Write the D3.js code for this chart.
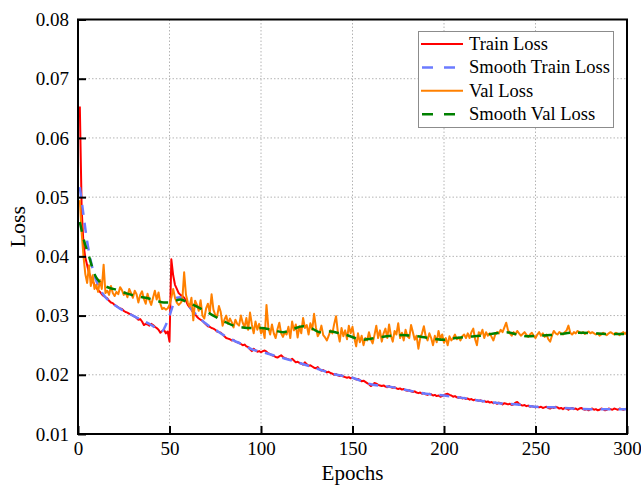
<!doctype html>
<html>
<head>
<meta charset="utf-8">
<script src="https://cdn.jsdelivr.net/npm/d3@7"></script>
<style>
  body { margin: 0; background: #fff; }
  text { font-family: "Liberation Serif", "Times New Roman", serif; }
</style>
</head>
<body>
<div id="chart"></div>
<script>
// per-epoch losses, epochs 1..300
const trainLoss = [
  0.0653,0.0480,0.0420,0.0398,0.0385,0.0372,0.0364,0.0358,0.0352,0.0347,
  0.0343,0.0340,0.0336,0.0333,0.0331,0.0329,0.0325,0.0322,0.0321,0.0318,
  0.0316,0.0314,0.0312,0.0311,0.0308,0.0306,0.0305,0.0303,0.0302,0.0300,
  0.0298,0.0296,0.0293,0.0294,0.0290,0.0284,0.0286,0.0285,0.0283,0.0286,
  0.0284,0.0281,0.0279,0.0276,0.0271,0.0274,0.0276,0.0270,0.0273,0.0256,
  0.0395,0.0368,0.0352,0.0345,0.0338,0.0335,0.0333,0.0330,0.0325,0.0318,
  0.0314,0.0310,0.0305,0.0302,0.0298,0.0295,0.0293,0.0291,0.0288,0.0285,
  0.0282,0.0281,0.0279,0.0278,0.0276,0.0273,0.0272,0.0271,0.0268,0.0265,
  0.0262,0.0261,0.0260,0.0258,0.0259,0.0256,0.0255,0.0254,0.0252,0.0250,
  0.0251,0.0248,0.0247,0.0243,0.0240,0.0244,0.0241,0.0239,0.0240,0.0238,
  0.0240,0.0241,0.0239,0.0236,0.0235,0.0233,0.0232,0.0230,0.0229,0.0231,
  0.0233,0.0230,0.0228,0.0227,0.0226,0.0225,0.0227,0.0224,0.0221,0.0222,
  0.0220,0.0219,0.0217,0.0221,0.0218,0.0215,0.0216,0.0214,0.0212,0.0211,
  0.0213,0.0209,0.0207,0.0208,0.0206,0.0204,0.0205,0.0203,0.0202,0.0200,
  0.0201,0.0199,0.0198,0.0199,0.0197,0.0196,0.0195,0.0196,0.0194,0.0195,
  0.0194,0.0192,0.0193,0.0191,0.0189,0.0190,0.0188,0.0186,0.0184,0.0181,
  0.0183,0.0186,0.0185,0.0183,0.0182,0.0181,0.0182,0.0180,0.0179,0.0181,
  0.0179,0.0178,0.0179,0.0177,0.0176,0.0177,0.0175,0.0176,0.0174,0.0173,
  0.0174,0.0172,0.0171,0.0172,0.0170,0.0169,0.0170,0.0168,0.0169,0.0167,
  0.0166,0.0168,0.0167,0.0165,0.0166,0.0164,0.0165,0.0163,0.0164,0.0166,
  0.0167,0.0168,0.0166,0.0165,0.0163,0.0164,0.0162,0.0161,0.0162,0.0160,
  0.0161,0.0159,0.0160,0.0158,0.0159,0.0157,0.0158,0.0157,0.0156,0.0157,
  0.0155,0.0156,0.0154,0.0155,0.0153,0.0154,0.0152,0.0153,0.0151,0.0153,
  0.0152,0.0150,0.0152,0.0151,0.0150,0.0151,0.0149,0.0150,0.0153,0.0154,
  0.0151,0.0149,0.0148,0.0149,0.0147,0.0148,0.0146,0.0147,0.0146,0.0145,
  0.0146,0.0145,0.0146,0.0144,0.0145,0.0146,0.0144,0.0143,0.0145,0.0144,
  0.0146,0.0145,0.0143,0.0144,0.0142,0.0144,0.0143,0.0141,0.0143,0.0144,
  0.0142,0.0143,0.0141,0.0143,0.0144,0.0142,0.0141,0.0142,0.0140,0.0142,
  0.0143,0.0141,0.0142,0.0140,0.0141,0.0143,0.0142,0.0140,0.0141,0.0143,
  0.0142,0.0141,0.0143,0.0142,0.0141,0.0143,0.0142,0.0141,0.0142,0.0143
];

const valLoss = [
  0.0495,0.0440,0.0400,0.0370,0.0355,0.0385,0.0350,0.0368,0.0345,0.0352,
  0.0340,0.0360,0.0345,0.0386,0.0338,0.0342,0.0335,0.0350,0.0338,0.0333,
  0.0340,0.0336,0.0348,0.0343,0.0335,0.0339,0.0331,0.0345,0.0338,0.0330,
  0.0342,0.0336,0.0322,0.0335,0.0341,0.0328,0.0320,0.0337,0.0326,0.0318,
  0.0330,0.0342,0.0327,0.0339,0.0320,0.0311,0.0313,0.0310,0.0312,0.0318,
  0.0330,0.0345,0.0330,0.0322,0.0318,0.0321,0.0326,0.0373,0.0335,0.0322,
  0.0315,0.0330,0.0292,0.0325,0.0318,0.0308,0.0326,0.0300,0.0295,0.0312,
  0.0320,0.0305,0.0336,0.0310,0.0301,0.0298,0.0316,0.0306,0.0283,0.0293,
  0.0300,0.0286,0.0295,0.0289,0.0280,0.0293,0.0286,0.0283,0.0300,0.0288,
  0.0280,0.0296,0.0276,0.0305,0.0285,0.0270,0.0290,0.0276,0.0286,0.0270,
  0.0278,0.0262,0.0318,0.0280,0.0268,0.0285,0.0270,0.0262,0.0277,0.0288,
  0.0270,0.0264,0.0272,0.0268,0.0281,0.0262,0.0290,0.0275,0.0285,0.0263,
  0.0282,0.0270,0.0296,0.0279,0.0284,0.0268,0.0287,0.0276,0.0303,0.0280,
  0.0265,0.0271,0.0283,0.0267,0.0263,0.0258,0.0266,0.0275,0.0270,0.0286,
  0.0299,0.0272,0.0256,0.0279,0.0265,0.0275,0.0260,0.0283,0.0270,0.0281,
  0.0262,0.0248,0.0270,0.0255,0.0266,0.0250,0.0262,0.0258,0.0272,0.0260,
  0.0253,0.0267,0.0283,0.0262,0.0275,0.0256,0.0270,0.0278,0.0262,0.0285,
  0.0266,0.0256,0.0274,0.0268,0.0287,0.0262,0.0271,0.0258,0.0276,0.0265,
  0.0262,0.0284,0.0272,0.0259,0.0266,0.0244,0.0262,0.0270,0.0282,0.0265,
  0.0258,0.0270,0.0262,0.0250,0.0266,0.0255,0.0274,0.0261,0.0268,0.0254,
  0.0262,0.0250,0.0265,0.0258,0.0262,0.0268,0.0260,0.0263,0.0258,0.0265,
  0.0268,0.0262,0.0270,0.0262,0.0272,0.0278,0.0260,0.0250,0.0272,0.0268,
  0.0276,0.0262,0.0272,0.0266,0.0270,0.0264,0.0258,0.0268,0.0272,0.0270,
  0.0276,0.0272,0.0280,0.0288,0.0275,0.0270,0.0266,0.0272,0.0268,0.0274,
  0.0270,0.0266,0.0269,0.0272,0.0268,0.0264,0.0268,0.0271,0.0266,0.0262,
  0.0268,0.0272,0.0266,0.0270,0.0264,0.0268,0.0260,0.0256,0.0266,0.0274,
  0.0270,0.0268,0.0272,0.0270,0.0268,0.0272,0.0275,0.0283,0.0271,0.0268,
  0.0272,0.0270,0.0274,0.0272,0.0270,0.0272,0.0269,0.0271,0.0273,0.0270,
  0.0272,0.0270,0.0268,0.0270,0.0266,0.0268,0.0271,0.0269,0.0267,0.0270,
  0.0272,0.0270,0.0268,0.0271,0.0269,0.0267,0.0270,0.0272,0.0269,0.0273
];

// smoothed curves, read at sparse epochs
const smoothTrainEpochs = [1,3,5,7,9,12,15,20,25,30,35,40,44,46,48,50,52,54,56,58,60,65,70,75,80,85,90,95,100,110,120,130,140,150,160,170,180,190,200,210,220,230,240,250,260,270,280,290,300];
const smoothTrain = [0.0517,0.0470,0.0425,0.0392,0.0368,0.0345,0.0331,0.0318,0.0308,0.0300,0.0292,0.0284,0.0276,0.0274,0.0284,0.0300,0.0318,0.0330,0.0331,0.0325,0.0318,0.0300,0.0286,0.0276,0.0266,0.0258,0.0251,0.0243,0.0239,0.0230,0.0221,0.0211,0.0201,0.0195,0.0184,0.0180,0.0174,0.0168,0.0165,0.0161,0.0156,0.0152,0.0150,0.0146,0.0145,0.0143,0.0142,0.0142,0.0142];

const smoothValEpochs = [1,3,6,9,12,17,22,26,32,37,42,47,50,56,60,65,70,75,80,85,90,95,100,106,112,118,123,128,132,138,143,148,155,160,166,172,177,182,188,194,200,206,212,220,228,234,240,246,252,258,264,270,276,282,288,294,300];
const smoothVal = [0.0458,0.0430,0.0400,0.0370,0.0356,0.0347,0.0343,0.0338,0.0333,0.0330,0.0326,0.0322,0.0322,0.0327,0.0322,0.0315,0.0307,0.0298,0.0290,0.0283,0.0280,0.0279,0.0279,0.0276,0.0272,0.0278,0.0282,0.0278,0.0272,0.0273,0.0270,0.0266,0.0259,0.0261,0.0264,0.0266,0.0267,0.0266,0.0264,0.0261,0.0259,0.0262,0.0264,0.0266,0.0270,0.0272,0.0268,0.0265,0.0266,0.0267,0.0269,0.0271,0.0271,0.0270,0.0269,0.0269,0.0269];

const xTicks = [0, 50, 100, 150, 200, 250, 300];
const yTicks = [0.01, 0.02, 0.03, 0.04, 0.05, 0.06, 0.07, 0.08];
const legendNames = ["Train Loss", "Smooth Train Loss", "Val Loss", "Smooth Val Loss"];

const W = 641, H = 486;
const mLeft = 78, mRight = 627, mTop = 19.5, mBottom = 434;

const svg = d3.select("#chart").append("svg")
  .attr("width", W)
  .attr("height", H);

const x = d3.scaleLinear().domain([0, 300]).range([mLeft, mRight]);
const y = d3.scaleLinear().domain([0.01, 0.08]).range([mBottom, mTop]);

// grid
const grid = svg.append("g").attr("stroke", "#b4b4b4").attr("stroke-width", 1).attr("stroke-dasharray", "1.5,2");
grid.selectAll(".gx").data(xTicks.slice(1, -1)).join("line")
  .attr("x1", d => x(d)).attr("x2", d => x(d))
  .attr("y1", mTop).attr("y2", mBottom);
grid.selectAll(".gy").data(yTicks.slice(1, -1)).join("line")
  .attr("x1", mLeft).attr("x2", mRight)
  .attr("y1", d => y(d)).attr("y2", d => y(d));

// series
const series = [
  { pts: trainLoss.map((v, i) => [i + 1, v]), color: "#ff0000", w: 2, dash: null, curve: d3.curveLinear },
  { pts: smoothTrainEpochs.map((e, i) => [e, smoothTrain[i]]), color: "#6b7bff", w: 2.5, dash: "10,8", curve: d3.curveMonotoneX },
  { pts: valLoss.map((v, i) => [i + 1, v]), color: "#ff8000", w: 2, dash: null, curve: d3.curveLinear },
  { pts: smoothValEpochs.map((e, i) => [e, smoothVal[i]]), color: "#008000", w: 2.5, dash: "10,8", curve: d3.curveMonotoneX }
];

const plot = svg.append("g");
series.forEach(s => {
  plot.append("path")
    .datum(s.pts)
    .attr("fill", "none")
    .attr("stroke", s.color)
    .attr("stroke-width", s.w)
    .attr("stroke-linejoin", "round")
    .attr("stroke-dasharray", s.dash)
    .attr("d", d3.line().x(d => x(d[0])).y(d => y(d[1])).curve(s.curve));
});

// axes, inward ticks
const yAxis = svg.append("g")
  .attr("transform", `translate(${mLeft},0)`)
  .call(d3.axisLeft(y).tickValues(yTicks).tickFormat(d3.format(".2f")).tickSize(-8).tickPadding(9));
const xAxis = svg.append("g")
  .attr("transform", `translate(0,${mBottom})`)
  .call(d3.axisBottom(x).tickValues(xTicks).tickSize(-8).tickPadding(8));

[xAxis, yAxis].forEach(a => {
  a.select(".domain").remove();
  a.selectAll(".tick line").attr("stroke", "#000").attr("stroke-width", 2);
  a.selectAll(".tick text").attr("fill", "#000").style("font-size", "19px")
    .style("font-family", "'Liberation Serif', serif");
});

// frame
svg.append("rect")
  .attr("x", mLeft).attr("y", mTop)
  .attr("width", mRight - mLeft).attr("height", mBottom - mTop)
  .attr("fill", "none").attr("stroke", "#000").attr("stroke-width", 2);

// axis titles
svg.append("text")
  .attr("x", (mLeft + mRight) / 2).attr("y", 480)
  .attr("text-anchor", "middle")
  .style("font-size", "21px")
  .text("Epochs");
svg.append("text")
  .attr("transform", `translate(25,${(mTop + mBottom) / 2}) rotate(-90)`)
  .attr("text-anchor", "middle")
  .style("font-size", "22px")
  .text("Loss");

// legend
const lg = svg.append("g");
lg.append("rect")
  .attr("x", 418.5).attr("y", 31.5).attr("width", 195).attr("height", 96)
  .attr("fill", "#fff").attr("stroke", "#8c8c8c").attr("stroke-width", 1);
legendNames.forEach((name, i) => {
  const cy = 44 + i * 23.4;
  lg.append("line")
    .attr("x1", 421).attr("x2", 463).attr("y1", cy).attr("y2", cy)
    .attr("stroke", series[i].color).attr("stroke-width", series[i].w)
    .attr("stroke-dasharray", series[i].dash ? "11,11" : null)
    .attr("stroke-dashoffset", series[i].dash ? -1 : null);
  lg.append("text")
    .attr("x", 469).attr("y", cy + 6)
    .style("font-size", "18.5px")
    .text(name);
});
</script>
</body>
</html>
